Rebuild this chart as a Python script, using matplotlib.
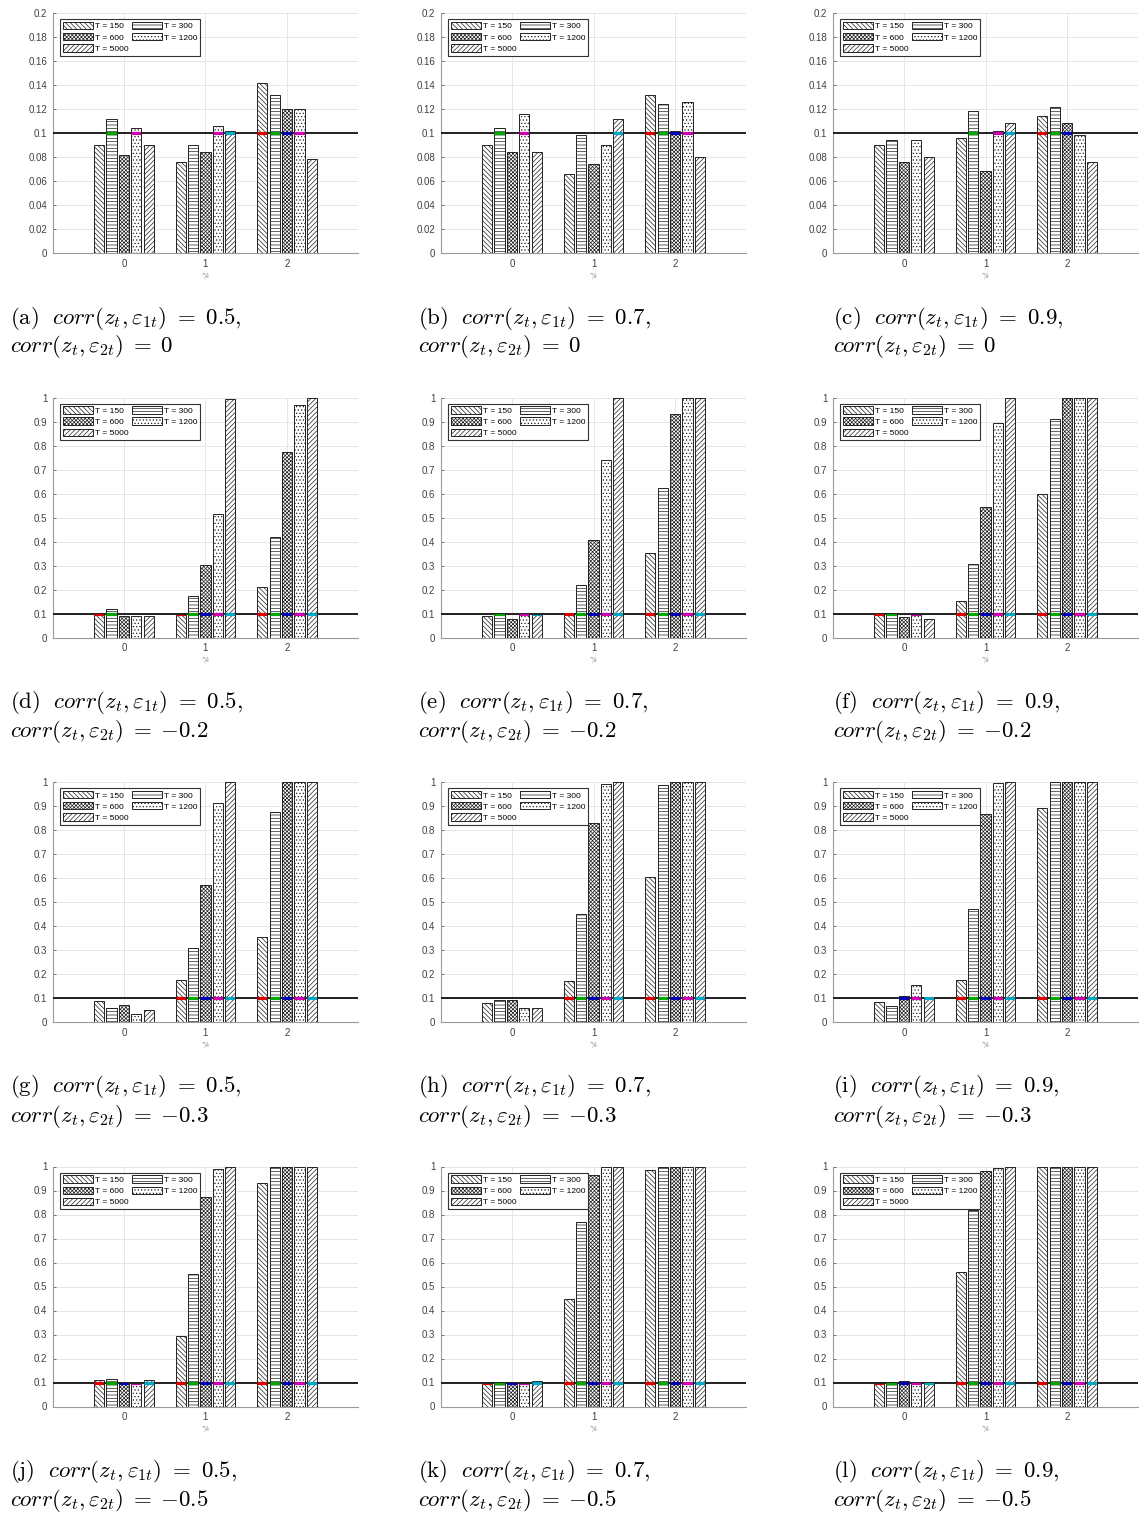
import numpy as np
import matplotlib
matplotlib.use('Agg')
import matplotlib.pyplot as plt

plt.rcParams['font.family'] = ['Liberation Sans', 'DejaVu Sans']
plt.rcParams['mathtext.fontset'] = 'cm'
plt.rcParams['hatch.linewidth'] = 0.5

T_labels = ['T = 150', 'T = 300', 'T = 600', 'T = 1200', 'T = 5000']
gamma_k = [0, 1, 2]
nominal = 0.1

# rejection frequencies: one row per T, one column per gamma_k value
rate_a = [[0.090, 0.076, 0.142],
          [0.112, 0.090, 0.132],
          [0.082, 0.084, 0.120],
          [0.104, 0.106, 0.120],
          [0.090, 0.102, 0.078]]
rate_b = [[0.090, 0.066, 0.132],
          [0.104, 0.098, 0.124],
          [0.084, 0.074, 0.102],
          [0.116, 0.090, 0.126],
          [0.084, 0.112, 0.080]]
rate_c = [[0.090, 0.096, 0.114],
          [0.094, 0.118, 0.122],
          [0.076, 0.068, 0.108],
          [0.094, 0.102, 0.098],
          [0.080, 0.108, 0.076]]
rate_d = [[0.097, 0.095, 0.212],
          [0.117, 0.175, 0.418],
          [0.089, 0.301, 0.772],
          [0.090, 0.514, 0.968],
          [0.089, 0.993, 1.000]]
rate_e = [[0.089, 0.101, 0.354],
          [0.097, 0.218, 0.622],
          [0.076, 0.408, 0.932],
          [0.097, 0.739, 1.000],
          [0.093, 1.000, 1.000]]
rate_f = [[0.097, 0.154, 0.597],
          [0.097, 0.306, 0.910],
          [0.085, 0.542, 0.997],
          [0.094, 0.892, 1.000],
          [0.079, 1.000, 1.000]]
rate_g = [[0.089, 0.176, 0.355],
          [0.057, 0.310, 0.874],
          [0.069, 0.571, 1.000],
          [0.035, 0.914, 1.000],
          [0.049, 1.000, 1.000]]
rate_h = [[0.080, 0.172, 0.605],
          [0.093, 0.450, 0.989],
          [0.093, 0.830, 1.000],
          [0.058, 0.993, 1.000],
          [0.058, 1.000, 1.000]]
rate_i = [[0.084, 0.176, 0.891],
          [0.065, 0.471, 1.000],
          [0.109, 0.867, 1.000],
          [0.155, 0.994, 1.000],
          [0.105, 1.000, 1.000]]
rate_j = [[0.111, 0.294, 0.931],
          [0.115, 0.552, 1.000],
          [0.097, 0.871, 1.000],
          [0.094, 0.989, 1.000],
          [0.111, 1.000, 1.000]]
rate_k = [[0.092, 0.448, 0.985],
          [0.096, 0.767, 1.000],
          [0.096, 0.964, 1.000],
          [0.094, 0.996, 1.000],
          [0.108, 1.000, 1.000]]
rate_l = [[0.092, 0.562, 1.000],
          [0.096, 0.820, 1.000],
          [0.108, 0.980, 1.000],
          [0.097, 0.995, 1.000],
          [0.096, 1.000, 1.000]]

panels = [[rate_a, rate_b, rate_c],
          [rate_d, rate_e, rate_f],
          [rate_g, rate_h, rate_i],
          [rate_j, rate_k, rate_l]]
corr1 = ['0.5', '0.7', '0.9']
corr2 = ['0', '-0.2', '-0.3', '-0.5']
letters = 'abcdefghijkl'

hatches = ['\\' * 7, '-' * 5, 'x' * 9, '.' * 5, '/' * 7]
mark_colors = ['#e00000', '#00a800', '#0000b4', '#d000b0', '#00a8c8']

W, H = 1141, 1517
fig = plt.figure(figsize=(W / 100, H / 100), dpi=100)
lefts = [53, 441, 833]
tops = [13, 397.5, 782, 1166.5]
cap_x = [10, 418, 833]
axw, axh = 305, 240

x = np.array(gamma_k, dtype=float)
step, bw = 0.152, 0.125

for r in range(4):
    ymax = 0.2 if r == 0 else 1.0
    for c in range(3):
        ax = fig.add_axes([lefts[c] / W, 1 - (tops[r] + axh) / H, axw / W, axh / H])
        data = panels[r][c]
        conts = []
        for i in range(5):
            bars = ax.bar(x + (i - 2) * step, data[i], width=bw, color='white',
                          edgecolor='#222222', linewidth=0.7, hatch=hatches[i],
                          zorder=2, label=T_labels[i])
            conts.append(bars)
            # coloured marker at the nominal level, clipped to each bar
            for p in bars.patches:
                ln, = ax.plot([p.get_x(), p.get_x() + p.get_width()], [nominal, nominal],
                              color=mark_colors[i], lw=2.3, solid_capstyle='butt', zorder=4)
                ln.set_clip_path(p)
        ax.axhline(nominal, color='#202020', lw=1.4, zorder=3)

        ax.set_xlim(-0.87, 2.87)
        ax.set_ylim(0, ymax)
        yt = np.round(np.linspace(0, ymax, 11), 2)
        ax.set_yticks(yt)
        ax.set_yticklabels([f'{v:g}' for v in yt])
        ax.set_xticks(gamma_k)
        ax.tick_params(direction='in', length=2, width=0.5, labelsize=7,
                       colors='#404040', pad=4)
        ax.grid(True, color='#e2e2e2', lw=0.6, zorder=0)
        ax.set_axisbelow(True)
        for s in ['top', 'right']:
            ax.spines[s].set_visible(False)
        for s in ['left', 'bottom']:
            ax.spines[s].set_color('#9a9a9a')
            ax.spines[s].set_linewidth(0.8)
        ax.set_xlabel(r'$\gamma_k$', fontsize=6, color='#707070', labelpad=2)

        order = [0, 2, 4, 1, 3]
        leg = ax.legend([conts[k] for k in order], [T_labels[k] for k in order],
                        ncol=2, loc='upper left', bbox_to_anchor=(7 / axw, 1 - 6 / axh),
                        borderaxespad=0, fontsize=6, frameon=True, fancybox=False,
                        framealpha=1, edgecolor='#333333', handlelength=3.6,
                        handleheight=1.0, handletextpad=0.2, columnspacing=0.5,
                        labelspacing=0.3, borderpad=0.35)
        leg.get_frame().set_linewidth(0.8)
        leg.set_zorder(5)

        letter = letters[r * 3 + c]
        y1 = 1 - (318 + 384.5 * r) / H
        y2 = 1 - (347 + 384.5 * r) / H
        fig.text(cap_x[c] / W, y1,
                 r'$\mathrm{(%s)}\ \ corr(z_t,\varepsilon_{1t})\ =\ %s,$' % (letter, corr1[c]),
                 fontsize=16.5, va='center', ha='left')
        fig.text(cap_x[c] / W, y2,
                 r'$corr(z_t,\varepsilon_{2t})\;=\;{%s}$' % corr2[r],
                 fontsize=16.5, va='center', ha='left')

fig.savefig('out.png', dpi=100)
